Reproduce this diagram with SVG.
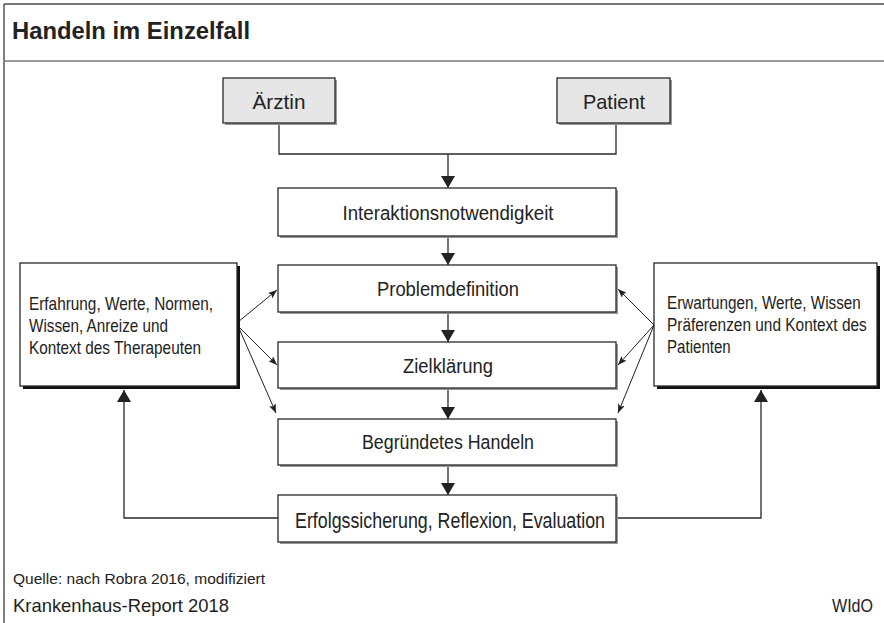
<svg xmlns="http://www.w3.org/2000/svg" width="884" height="623" viewBox="0 0 884 623">
<style>
  .t { font-family: "Liberation Sans", Arial, sans-serif; fill: #222; }
  .box { fill: #fff; stroke: #2a2a2a; stroke-width: 1.3; }
  .gbox { fill: #e6e6e6; stroke: #2a2a2a; stroke-width: 1.3; }
  .sh { fill: #999; }
  .bsh { fill: #111; }
  .c { fill: none; stroke: #2a2a2a; stroke-width: 1.3; }
  .f { fill: none; stroke: #222; stroke-width: 1; }
</style>
<defs>
  <marker id="big" viewBox="0 0 12 14" markerWidth="12" markerHeight="14" refX="12" refY="7" orient="auto" markerUnits="userSpaceOnUse">
    <path d="M0,0 L12,7 L0,14 Z" fill="#222"/>
  </marker>
  <marker id="small" viewBox="0 0 9 7" markerWidth="9" markerHeight="7" refX="9" refY="3.5" orient="auto" markerUnits="userSpaceOnUse">
    <path d="M0,0 L9,3.5 L0,7 L2,3.5 Z" fill="#222"/>
  </marker>
</defs>
<rect width="884" height="623" fill="#fff"/>
<!-- frame -->
<line x1="4" y1="4" x2="884" y2="4" stroke="#777" stroke-width="2"/>
<line x1="4" y1="4" x2="4" y2="623" stroke="#555" stroke-width="1.5"/>
<line x1="4" y1="61" x2="884" y2="61" stroke="#777" stroke-width="1.5"/>
<text class="t" x="12" y="39" font-size="24" font-weight="bold" textLength="238" lengthAdjust="spacingAndGlyphs">Handeln im Einzelfall</text>

<g id="connectors">
  <polyline class="c" points="279,123 279,154 616,154 616,123"/>
  <line class="c" x1="448" y1="154" x2="448" y2="188" marker-end="url(#big)"/>
  <line class="c" x1="448" y1="236" x2="448" y2="265" marker-end="url(#big)"/>
  <line class="c" x1="448" y1="312" x2="448" y2="342" marker-end="url(#big)"/>
  <line class="c" x1="448" y1="388" x2="448" y2="419" marker-end="url(#big)"/>
  <line class="c" x1="448" y1="465" x2="448" y2="495" marker-end="url(#big)"/>
  <polyline class="c" points="278,518 124,518 124,390" marker-end="url(#big)"/>
  <polyline class="c" points="616,518 761,518 761,390" marker-end="url(#big)"/>
  <line class="f" x1="238" y1="322" x2="277" y2="290" marker-end="url(#small)"/>
  <line class="f" x1="238" y1="326" x2="277" y2="365" marker-end="url(#small)"/>
  <line class="f" x1="238" y1="326" x2="276" y2="413" marker-end="url(#small)"/>
  <line class="f" x1="654" y1="325" x2="618" y2="289" marker-end="url(#small)"/>
  <line class="f" x1="654" y1="325" x2="618" y2="365" marker-end="url(#small)"/>
  <line class="f" x1="654" y1="325" x2="618" y2="413" marker-end="url(#small)"/>
</g>

<g id="aerztin">
  <rect class="sh" x="225" y="80" width="112" height="45"/>
  <rect class="gbox" x="223" y="78" width="112" height="45"/>
  <text class="t" x="279" y="109" font-size="21" text-anchor="middle" textLength="53" lengthAdjust="spacingAndGlyphs">Ärztin</text>
</g>
<g id="patient">
  <rect class="sh" x="559" y="80" width="113" height="45"/>
  <rect class="gbox" x="557" y="78" width="113" height="45"/>
  <text class="t" x="614" y="109" font-size="21" text-anchor="middle" textLength="62" lengthAdjust="spacingAndGlyphs">Patient</text>
</g>
<g id="interaktion">
  <rect class="sh" x="280" y="190" width="338" height="48"/>
  <rect class="box" x="278" y="188" width="338" height="48"/>
  <text class="t" x="448" y="220" font-size="20" text-anchor="middle" textLength="211" lengthAdjust="spacingAndGlyphs">Interaktionsnotwendigkeit</text>
</g>
<g id="problem">
  <rect class="sh" x="280" y="267" width="338" height="47"/>
  <rect class="box" x="278" y="265" width="338" height="47"/>
  <text class="t" x="448" y="296" font-size="20" text-anchor="middle" textLength="142" lengthAdjust="spacingAndGlyphs">Problemdefinition</text>
</g>
<g id="ziel">
  <rect class="sh" x="280" y="344" width="338" height="46"/>
  <rect class="box" x="278" y="342" width="338" height="46"/>
  <text class="t" x="448" y="373" font-size="20" text-anchor="middle" textLength="90" lengthAdjust="spacingAndGlyphs">Zielklärung</text>
</g>
<g id="handeln">
  <rect class="sh" x="280" y="421" width="338" height="46"/>
  <rect class="box" x="278" y="419" width="338" height="46"/>
  <text class="t" x="448" y="449" font-size="20" text-anchor="middle" textLength="172" lengthAdjust="spacingAndGlyphs">Begründetes Handeln</text>
</g>
<g id="erfolg">
  <rect class="sh" x="280" y="497" width="338" height="47"/>
  <rect class="box" x="278" y="495" width="338" height="47"/>
  <text class="t" x="450" y="528" font-size="22" text-anchor="middle" textLength="310" lengthAdjust="spacingAndGlyphs">Erfolgssicherung, Reflexion, Evaluation</text>
</g>
<g id="therapeut">
  <rect class="bsh" x="23" y="266" width="217" height="123"/>
  <rect class="box" x="20" y="263" width="217" height="123"/>
  <text class="t" x="29" y="310" font-size="19" textLength="184" lengthAdjust="spacingAndGlyphs">Erfahrung, Werte, Normen,</text>
  <text class="t" x="29" y="332" font-size="19" textLength="139" lengthAdjust="spacingAndGlyphs">Wissen, Anreize und</text>
  <text class="t" x="29" y="354" font-size="19" textLength="172" lengthAdjust="spacingAndGlyphs">Kontext des Therapeuten</text>
</g>
<g id="patientkontext">
  <rect class="bsh" x="657" y="266" width="223" height="123"/>
  <rect class="box" x="654" y="263" width="223" height="123"/>
  <g transform="translate(667,0) scale(0.85,1)">
    <text class="t" x="0" y="309" font-size="19" textLength="228" lengthAdjust="spacingAndGlyphs">Erwartungen, Werte, Wissen</text>
    <text class="t" x="0" y="331" font-size="19" textLength="235" lengthAdjust="spacingAndGlyphs">Präferenzen und Kontext des</text>
    <text class="t" x="0" y="353" font-size="19" textLength="75" lengthAdjust="spacingAndGlyphs">Patienten</text>
  </g>
</g>

<text class="t" x="13" y="584" font-size="15" fill="#333" textLength="252" lengthAdjust="spacingAndGlyphs">Quelle: nach Robra 2016, modifiziert</text>
<text class="t" x="13" y="612" font-size="19" textLength="216" lengthAdjust="spacingAndGlyphs">Krankenhaus-Report 2018</text>
<text class="t" x="873" y="612" font-size="19" text-anchor="end" textLength="41" lengthAdjust="spacingAndGlyphs">WIdO</text>
</svg>
